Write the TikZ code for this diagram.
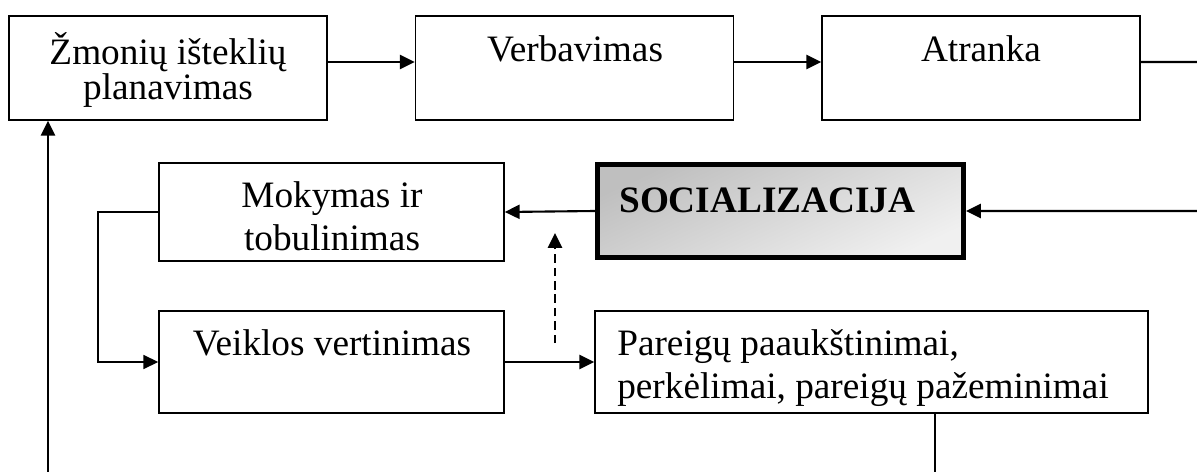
\documentclass[tikz,border=0pt]{standalone}
\usepackage{fontspec}
\setmainfont{Liberation Serif}
\usetikzlibrary{positioning,arrows.meta,calc}
\tikzset{
  flowarrow/.style={-{Triangle[length=10.5pt, width=10pt]}, line width=1.5pt},
  thinarrow/.style={-{Triangle[length=10.5pt, width=10pt]}, line width=1pt},
  thinline/.style={line width=0.9pt},
  hintarrow/.style={-{Triangle[length=10.5pt, width=10pt]}, line width=1.4pt, dash pattern=on 6pt off 3.5pt},
  stagebox/.style={draw, line width=1.1pt, inner sep=0pt, minimum width=7.95cm, minimum height=2.6cm},
  midbox/.style={draw, line width=1.1pt, inner sep=0pt, minimum width=8.625cm, minimum height=2.5cm},
  keybox/.style={draw, line width=3.5pt, inner sep=0pt, minimum width=9.15cm, minimum height=2.325cm,
    top color=black!25, bottom color=black!6, shading angle=25},
  boxtext/.style={inner sep=0pt, align=center, font=\fontsize{26.5}{30}\selectfont},
  lefttext/.style={boxtext, align=left}
}
\begin{document}
\begin{tikzpicture}[x=0.025cm, y=-0.025cm]
  \useasboundingbox (0,0) rectangle (1197,472);
  % top row
  \node[stagebox] (plan) at (168,68) {};
  \node[stagebox] (verb) at (574.5,68) {};
  \node[stagebox] (atr) at (981,68) {};
  \node[boxtext, anchor=base] (planT) at (168,100) {Žmonių išteklių\\[-5pt]planavimas};
  \node[boxtext, anchor=base] (verbT) at (575,62) {Verbavimas};
  \node[boxtext, anchor=base] (atrT) at (981,62) {Atranka};
  % middle and bottom rows
  \node[keybox] (soc) at (780.5,211) {};
  \node[boxtext, anchor=base west, font=\fontsize{26.5}{30}\selectfont\bfseries] (socT) at (619,212) {SOCIALIZACIJA};
  \node[midbox, minimum height=2.45cm] (mok) at (331.5,212) {};
  \node[boxtext, anchor=base] (mokT) at (332,250) {Mokymas ir\\tobulinimas};
  \node[midbox, minimum height=2.55cm] (veik) at (331.5,362) {};
  \node[boxtext, anchor=base] (veikT) at (332,355) {Veiklos vertinimas};
  \node[midbox, minimum width=13.825cm, minimum height=2.55cm] (par) at (871.5,362) {};
  \node[lefttext, anchor=base west] (parT) at (617,398) {Pareigų paaukštinimai,\\perkėlimai, pareigų pažeminimai};
  % helper points outside the page
  \coordinate (rightTurn) at (1215,62);
  \coordinate (hintLow) at (555,343);
  \coordinate (hintHigh) at (555,233);
  \coordinate (loopTurn) at (98,212);
  \coordinate (parFoot) at (935,413);
  \coordinate (bottomTurn) at (935,490);
  \coordinate (leftTurn) at (48,490);
  % connectors
  \draw[flowarrow] ([yshift=4.25pt]plan.east) -- ([yshift=4.25pt]verb.west);
  \draw[flowarrow] ([yshift=4.25pt]verb.east) -- ([yshift=4.25pt]atr.west);
  \draw[flowarrow] ([yshift=4.25pt]atr.east) -- (rightTurn) |- (soc.east);
  \draw[flowarrow] (soc.west) -- (mok.east);
  \draw[thinarrow] (mok.west) -- (loopTurn) |- (veik.west);
  \draw[flowarrow] (veik.east) -- (par.west);
  \draw[hintarrow] (hintLow) -- (hintHigh);
  \draw[thinline] (parFoot) -- (bottomTurn) -- (leftTurn);
  \draw[flowarrow] (leftTurn) -- (leftTurn |- plan.south);
\end{tikzpicture}
\end{document}
